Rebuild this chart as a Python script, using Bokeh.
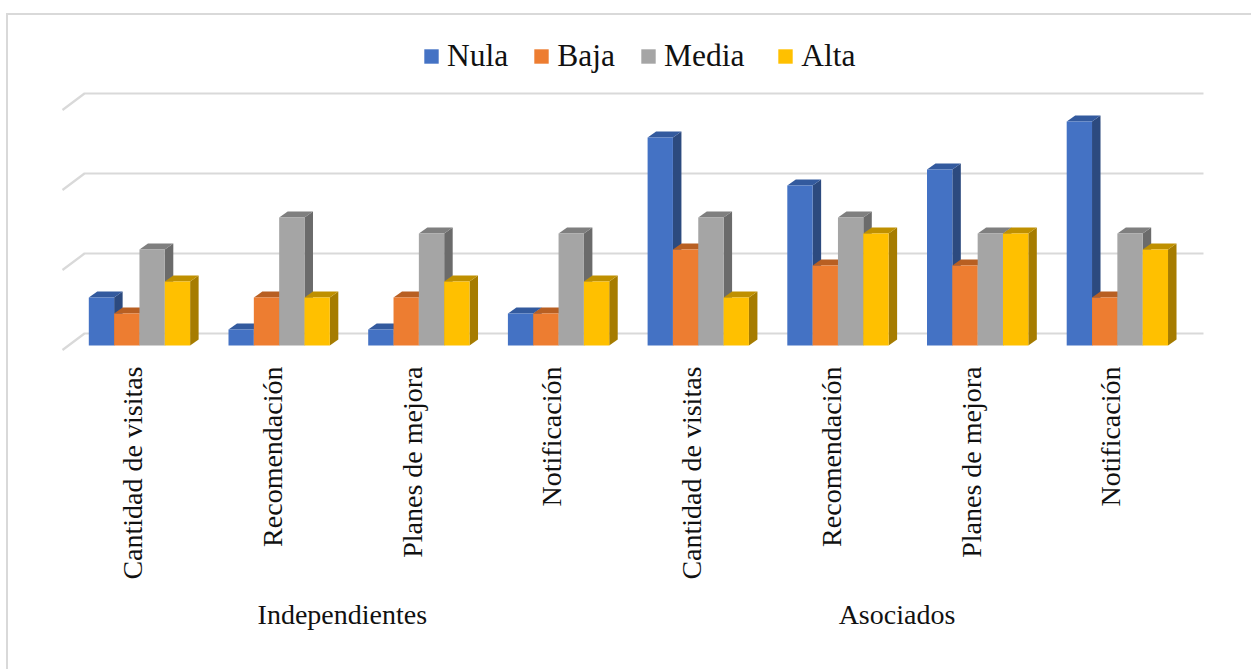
import math
from bokeh.plotting import figure
from bokeh.embed import file_html
from bokeh.resources import INLINE
from bokeh.models import Range1d, LinearAxis, FixedTicker, Legend, LegendItem

categories = ["Cantidad de visitas", "Recomendación", "Planes de mejora", "Notificación",
              "Cantidad de visitas", "Recomendación", "Planes de mejora", "Notificación"]
groups = ["Independientes", "Asociados"]
group_centres = [1.5, 5.47]
nula = [3, 1, 1, 2, 13, 10, 11, 14]
baja = [2, 3, 3, 2, 6, 5, 5, 3]
media = [6, 8, 7, 7, 8, 8, 7, 7]
alta = [4, 3, 4, 4, 3, 7, 7, 6]
series_names = ["Nula", "Baja", "Media ", "Alta"]
series_values = [nula, baja, media, alta]
front_colors = ["#4472C4", "#ED7D31", "#A5A5A5", "#FFC000"]
top_colors = ["#335A9E", "#B85F22", "#7F7F7F", "#BF9000"]
side_colors = ["#2C4A7F", "#A1571F", "#6B6B6B", "#A67C00"]
grid_values = [0, 5, 10, 15]

SERIF = "Liberation Serif"
GRID = "#D9D9D9"
ORIGIN_PX = 132.3
STEP_PX = 139.7
UNIT_PX = 16.0
BAR_W = 25.33 / STEP_PX
BAR_START = -44.0 / STEP_PX
DX = 8.5 / STEP_PX
DY = 6.0 / UNIT_PX

p = figure(width=1251, height=669, output_backend="svg", toolbar_location=None,
           x_range=Range1d((0 - ORIGIN_PX) / STEP_PX, (1251 - ORIGIN_PX) / STEP_PX),
           y_range=Range1d((345 - 352) / UNIT_PX, (345 - 0) / UNIT_PX),
           min_border_left=0, min_border_right=0, min_border_top=0, min_border_bottom=317,
           x_axis_location=None, y_axis_location=None)
p.grid.visible = False
p.outline_line_color = None
p.background_fill_color = None
p.border_fill_color = None
# chart-area border: only the top and left edges are visible
p.styles = {
    "background": (f"linear-gradient({GRID},{GRID}) 6px 13px / 100% 2px no-repeat, "
                   f"linear-gradient({GRID},{GRID}) 6px 13px / 2px 100% no-repeat"),
}

# floor / wall gridlines of the 3D box
wall_x0, wall_x1 = (84 - ORIGIN_PX) / STEP_PX, (1203 - ORIGIN_PX) / STEP_PX
floor_x0 = (62 - ORIGIN_PX) / STEP_PX
wall_up, floor_down = 12.0 / UNIT_PX, 4.5 / UNIT_PX
grid_xs = [[floor_x0, wall_x0, wall_x1] for _ in grid_values]
grid_ys = [[g - floor_down, g + wall_up, g + wall_up] for g in grid_values]
p.multi_line(grid_xs, grid_ys, line_color=GRID, line_width=2.2)

# 3D bars, drawn series by series so each front face hides the side of its neighbour
legend_items = []
for i_cat in range(len(categories)):
    for s, values in enumerate(series_values):
        x0 = i_cat + BAR_START + s * BAR_W
        x1 = x0 + BAR_W
        v = values[i_cat]
        p.patch([x1, x1 + DX, x1 + DX, x1], [0, DY, v + DY, v], fill_color=side_colors[s], line_color=None)
        p.patch([x0, x0 + DX, x1 + DX, x1], [v, v + DY, v + DY, v], fill_color=top_colors[s], line_color=None)
        r = p.quad(left=[x0], right=[x1], bottom=[0], top=[v], fill_color=front_colors[s], line_color=None)
        if i_cat == 0:
            legend_items.append(LegendItem(label=series_names[s], renderers=[r]))

legend = Legend(items=legend_items, orientation="horizontal", location=(422, 278),
                glyph_width=18, glyph_height=18, label_standoff=7, spacing=24,
                padding=0, margin=0, border_line_color=None, background_fill_alpha=0,
                label_text_font=SERIF, label_text_font_size="31.5px", label_text_color="#111111")
p.add_layout(legend, "center")

# category axis
axis = LinearAxis(ticker=FixedTicker(ticks=list(range(len(categories)))),
                  major_label_overrides={i: c for i, c in enumerate(categories)},
                  major_label_orientation=math.pi / 2,
                  major_label_standoff=8,
                  major_label_text_font=SERIF, major_label_text_font_size="28px",
                  major_label_text_color="#111111",
                  axis_line_color=None, major_tick_line_color=None, minor_tick_line_color=None)
p.add_layout(axis, "below")

# outer level of the category axis
group_axis = LinearAxis(ticker=FixedTicker(ticks=group_centres),
                        major_label_overrides=dict(zip(group_centres, groups)),
                        major_label_orientation="horizontal",
                        major_label_standoff=10,
                        major_label_text_font=SERIF, major_label_text_font_size="28px",
                        major_label_text_color="#111111",
                        axis_line_color=None, major_tick_line_color=None, minor_tick_line_color=None)
p.add_layout(group_axis, "below")

open("out.html", "w").write(file_html(p, INLINE))
